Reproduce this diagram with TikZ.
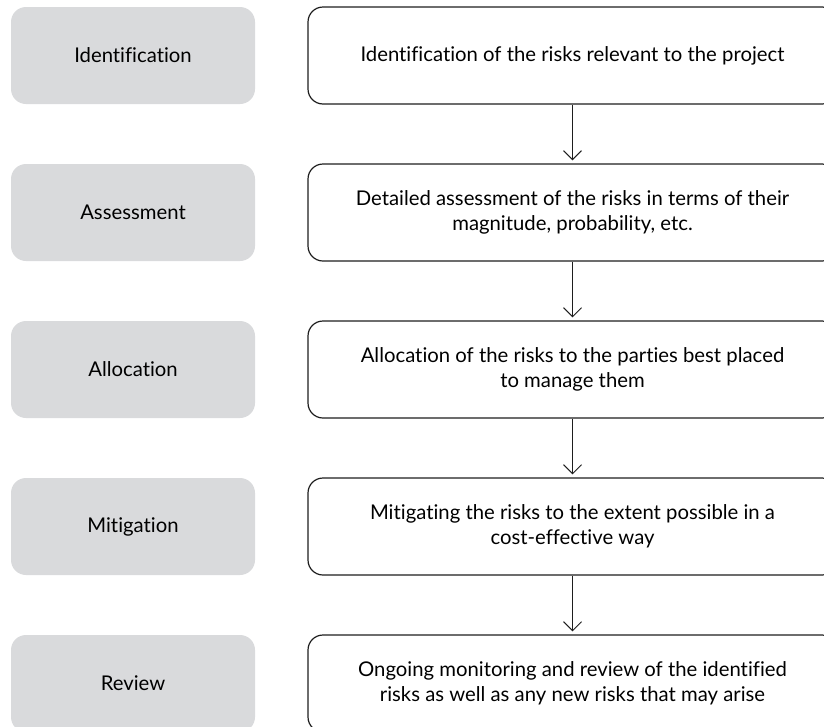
\documentclass[tikz,border=0pt]{standalone}
\usepackage{fontspec}
\setmainfont{Lato}[Ligatures=NoCommon]
\usetikzlibrary{arrows.meta}
\definecolor{boxgray}{RGB}{217,218,220}
\definecolor{lineblack}{RGB}{30,30,30}
\tikzset{
  graybox/.style={fill=boxgray, draw=none, rounded corners=15pt, minimum width=244pt, minimum height=97pt, inner sep=0pt, align=center, font=\fontsize{20.3}{25}\selectfont},
  textbox/.style={draw=lineblack, line width=1.2pt, fill=white, rounded corners=15pt, minimum width=529pt, minimum height=97pt, inner sep=0pt, align=center, font=\fontsize{20.3}{25}\selectfont},
  flowarrow/.style={draw=lineblack, line width=1pt, -{Straight Barb[length=9pt,width=18pt,line width=1pt]}, shorten >=3pt}
}
\begin{document}
\begin{tikzpicture}[x=1pt,y=-1pt]
\useasboundingbox (0,0) rectangle (824,726);
\clip (0,0) rectangle (824,726);
\node[graybox] (l1) at (133,55.5) {Identification};
\node[graybox] (l2) at (133,212.5) {Assessment};
\node[graybox] (l3) at (133,369.5) {Allocation};
\node[graybox] (l4) at (133,526.5) {Mitigation};
\node[graybox] (l5) at (133,683.5) {Review};
\node[textbox] (r1) at (572.5,55.5) {Identification of the risks relevant to the project};
\node[textbox] (r2) at (572.5,212.5) {Detailed assessment of the risks in terms of their\\magnitude, probability, etc.};
\node[textbox] (r3) at (572.5,369.5) {Allocation of the risks to the parties best placed\\to manage them};
\node[textbox] (r4) at (572.5,526.5) {Mitigating the risks to the extent possible in a\\cost-effective way};
\node[textbox] (r5) at (572.5,683.5) {Ongoing monitoring and review of the identified\\risks as well as any new risks that may arise};
\draw[flowarrow] (r1.south) -- (r2.north);
\draw[flowarrow] (r2.south) -- (r3.north);
\draw[flowarrow] (r3.south) -- (r4.north);
\draw[flowarrow] (r4.south) -- (r5.north);
\end{tikzpicture}
\end{document}
